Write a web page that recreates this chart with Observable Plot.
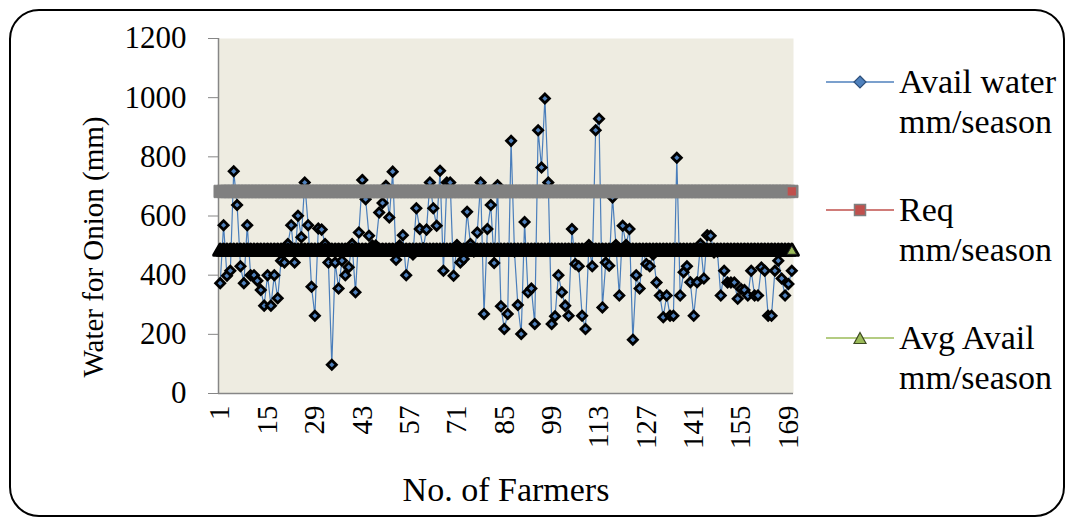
<!DOCTYPE html>
<html>
<head>
<meta charset="utf-8">
<script src="https://cdn.jsdelivr.net/npm/d3@7"></script>
<script src="https://cdn.jsdelivr.net/npm/@observablehq/plot@0.6"></script>
<style>
  html, body { margin: 0; padding: 0; background: #fff; }
  #wrap { position: relative; width: 1075px; height: 523px; overflow: hidden; font-family: "Liberation Serif", "Times New Roman", serif; color: #000; }
  #border { position: absolute; left: 9px; top: 9px; width: 1052px; height: 504px; border: 2.5px solid #000; border-radius: 30px; pointer-events: none; }
  #ytitle { position: absolute; left: 93px; top: 247px; transform: translate(-50%, -50%) rotate(-90deg); font-size: 29px; white-space: nowrap; line-height: 1; }
  .legend-item { position: absolute; left: 826px; display: flex; align-items: flex-start; }
  .legend-item svg { margin-top: 13px; flex: none; }
  .legend-text { margin-left: 5px; font-size: 34px; line-height: 40px; }
</style>
</head>
<body>
<div id="wrap">
  <div id="chart"></div>
  <div id="ytitle">Water for Onion (mm)</div>
  <div id="legend"></div>
  <div id="border"></div>
</div>
<script>
// Available irrigation water per farmer (mm/season)
const availWater = [
  373, 569, 398, 415, 751, 637, 430, 373, 569, 400,
  400, 381, 350, 297, 400, 297, 400, 322, 449, 443,
  505, 569, 443, 601, 528, 713, 569, 361, 263, 558,
  554, 505, 443, 97, 443, 355, 449, 400, 427, 505,
  342, 544, 722, 657, 533, 500, 500, 612, 644, 702,
  595, 750, 452, 500, 535, 400, 480, 470, 626, 556,
  490, 554, 713, 626, 567, 753, 415, 713, 713, 398,
  502, 443, 455, 614, 505, 480, 544, 713, 269, 556,
  637, 441, 704, 295, 218, 269, 854, 480, 299, 201,
  580, 342, 355, 235, 890, 764, 997, 713, 235, 261,
  400, 342, 297, 263, 556, 438, 430, 263, 218, 502,
  430, 890, 929, 291, 443, 432, 663, 502, 331, 567,
  502, 556, 182, 400, 355, 485, 438, 430, 470, 375,
  331, 258, 331, 263, 263, 797, 331, 410, 430, 376,
  263, 376, 505, 389, 535, 533, 477, 480, 331, 415,
  375, 375, 375, 320, 353, 350, 331, 415, 331, 331,
  426, 415, 263, 263, 415, 449, 389, 331, 370, 415
];

// Crop water requirement and average availability (mm/season)
const reqWater = 683;
const avgAvail = 480;

// Axis ticks
const farmerTicks = [1, 15, 29, 43, 57, 71, 85, 99, 113, 127, 141, 155, 169];
const waterTicks = [0, 200, 400, 600, 800, 1000, 1200];

// Series labels and colours
const seriesNames = ["Avail water\nmm/season", "Req\nmm/season", "Avg Avail\nmm/season"];
const seriesColors = ["#4f81bd", "#c0504d", "#9bbb59"];

const rows = availWater.map((v, i) => ({farmer: i + 1, avail: v, req: reqWater, avg: avgAvail}));
const last = rows.slice(-1);

const font = "'Liberation Serif', 'Times New Roman', serif";

const chart = Plot.plot({
  width: 1075,
  height: 523,
  marginLeft: 218,
  marginRight: 282,
  marginTop: 38,
  marginBottom: 130,
  style: {fontFamily: font, background: "transparent", color: "#000"},
  x: {domain: [0.5, availWater.length + 0.5]},
  y: {domain: [0, 1200]},
  marks: [
    Plot.frame({fill: "#eeece1", stroke: null}),
    Plot.axisY({ticks: waterTicks, tickSize: 10, tickPadding: 22, stroke: "#868686", fontSize: 31, label: null, tickFormat: d => `${d}`}),
    Plot.axisX({ticks: farmerTicks, tickSize: 0, tickPadding: 12, tickRotate: -90, fontSize: 29, label: null}),
    Plot.ruleX([0.5], {stroke: "#868686", strokeWidth: 1.5}),
    Plot.ruleY([0], {stroke: "#868686", strokeWidth: 1.5}),
    // available water: thin line with diamond markers
    Plot.line(rows, {x: "farmer", y: "avail", stroke: "#4a7ebb", strokeWidth: 1.2}),
    Plot.dot(rows, {x: "farmer", y: "avail", symbol: "diamond2", r: 4.1, fill: seriesColors[0], stroke: "#000", strokeWidth: 2.8}),
    // requirement: overlapping square markers form a grey band
    Plot.dot(rows, {x: "farmer", y: "req", symbol: "square", r: 7, fill: "#808080", stroke: "#808080", strokeWidth: 1}),
    Plot.dot(last, {x: "farmer", y: "req", symbol: "square", r: 5.5, fill: seriesColors[1], stroke: "#808080", strokeWidth: 1.5}),
    // average availability: overlapping triangle markers form a dark band
    Plot.dot(rows, {x: "farmer", y: "avg", symbol: "triangle", r: 4.7, fill: "#000", stroke: "#000", strokeWidth: 3.4, strokeLinejoin: "round"}),
    Plot.dot(last, {x: "farmer", y: "avg", symbol: "triangle", r: 3.6, fill: seriesColors[2], stroke: "#222", strokeWidth: 1}),
    // x axis title
    Plot.text(["No. of Farmers"], {frameAnchor: "bottom", dy: 107, fontSize: 34, fill: "#000"})
  ]
});
document.getElementById("chart").appendChild(chart);

// Legend
const legend = document.getElementById("legend");
const legendTops = [62, 190, 318];
const markers = [
  `<path d="M34,1 L40,7 L34,13 L28,7 Z" fill="${seriesColors[0]}" stroke="#2d4f7a" stroke-width="1.2"/>`,
  `<rect x="28.5" y="1.5" width="11" height="11" fill="${seriesColors[1]}" stroke="#7f7f7f" stroke-width="1.5"/>`,
  `<path d="M34,1.5 L40,12.5 L28,12.5 Z" fill="${seriesColors[2]}" stroke="#3d4a22" stroke-width="1.2"/>`
];
seriesNames.forEach((name, i) => {
  const item = document.createElement("div");
  item.className = "legend-item";
  item.style.top = legendTops[i] + "px";
  item.innerHTML =
    `<svg width="68" height="14" viewBox="0 0 68 14"><line x1="0" x2="68" y1="7" y2="7" stroke="${seriesColors[i]}" stroke-width="1.5"/>${markers[i]}</svg>` +
    `<div class="legend-text">${name.split("\n").join("<br>")}</div>`;
  legend.appendChild(item);
});
</script>
</body>
</html>
